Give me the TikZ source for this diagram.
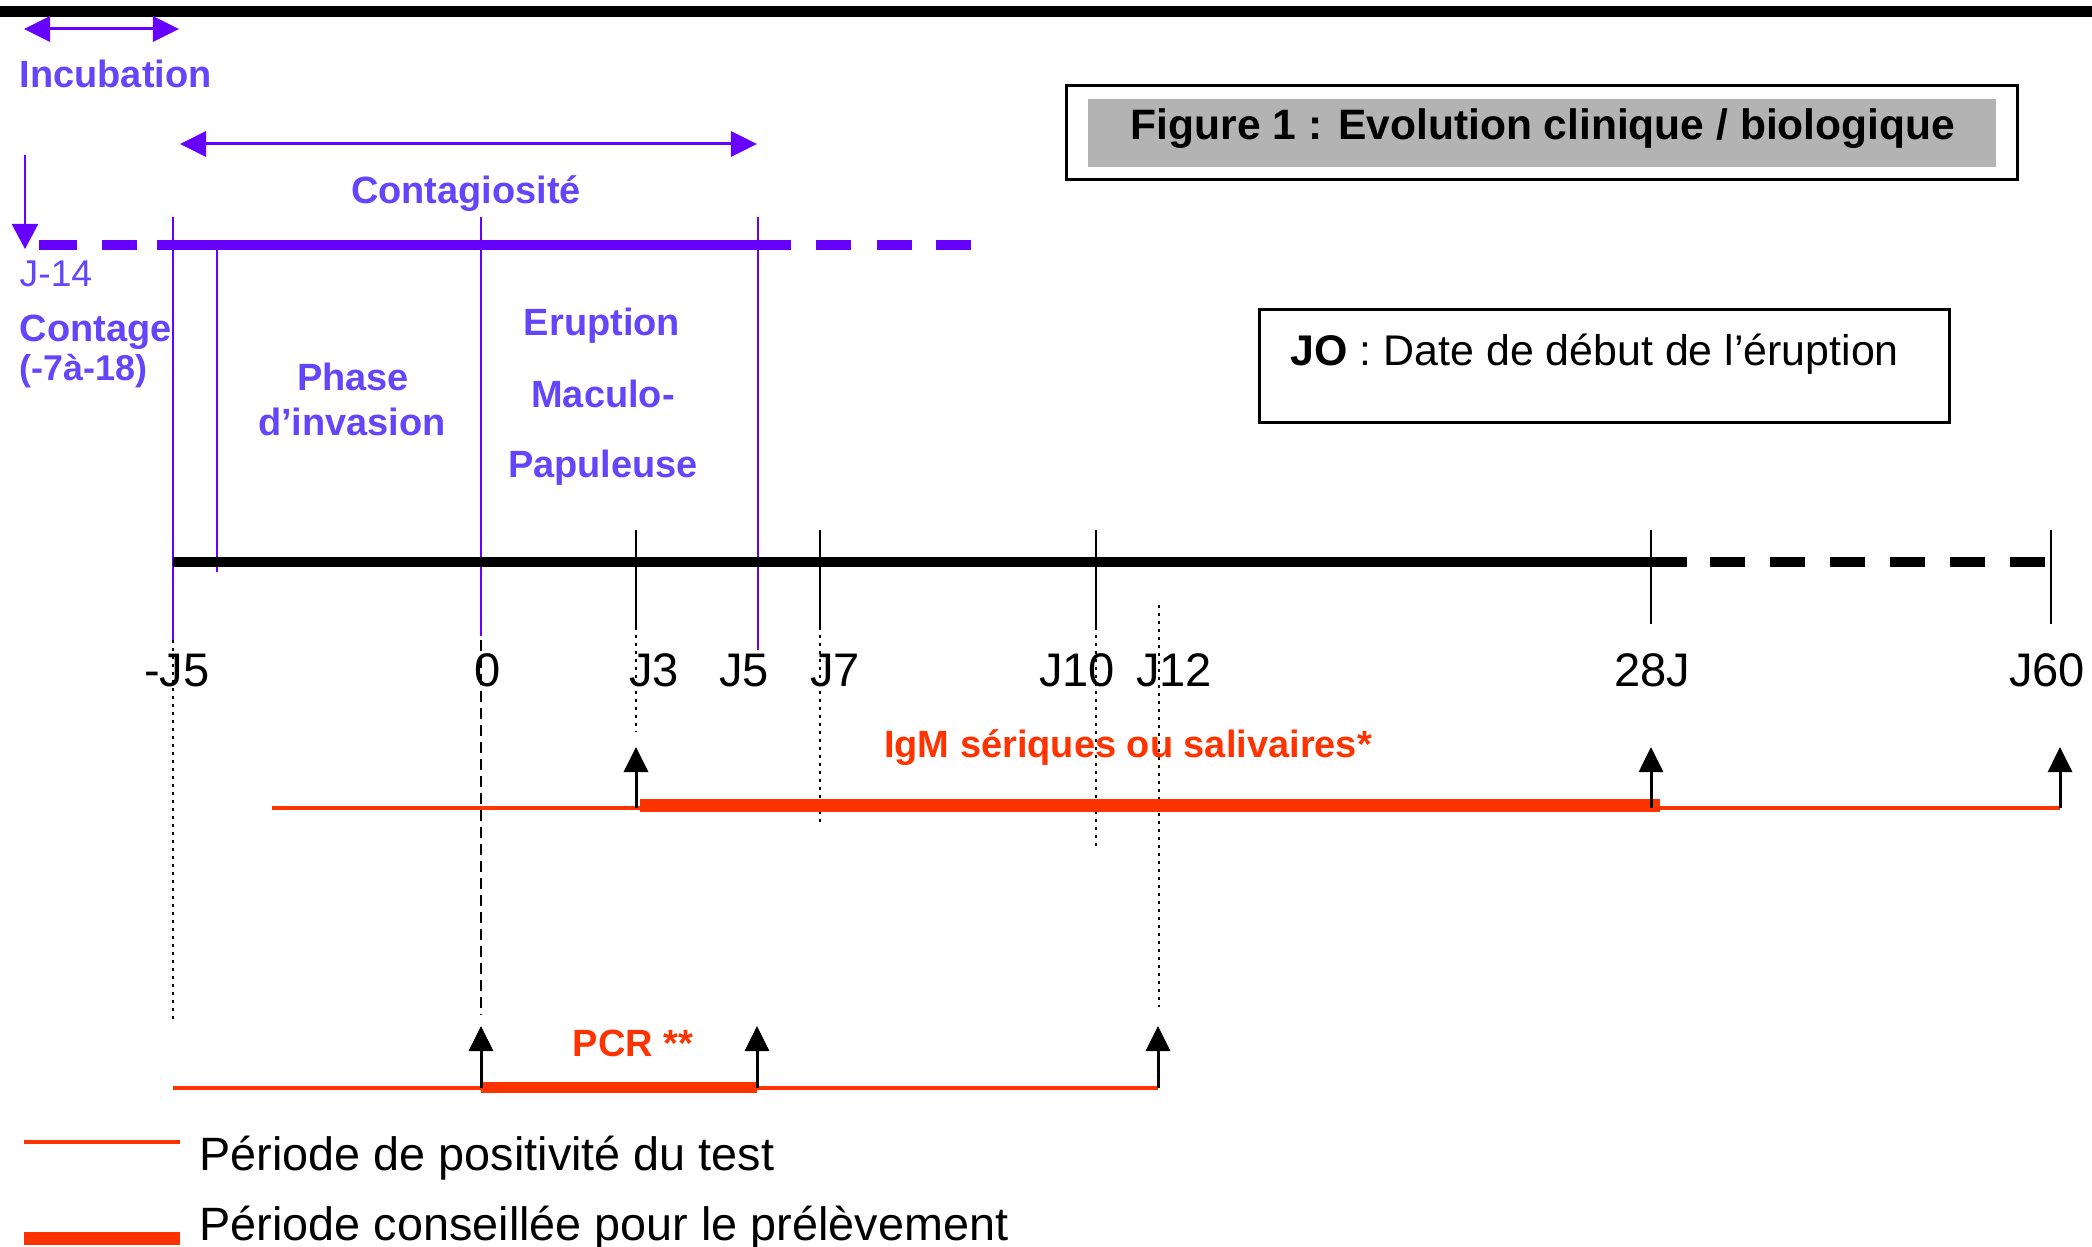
\documentclass[tikz,border=0pt]{standalone}
\usepackage{fontspec}
\setmainfont{Liberation Sans}
\usetikzlibrary{arrows.meta}
\definecolor{pline}{RGB}{102,0,255}
\definecolor{ptext}{RGB}{100,70,250}
\definecolor{rline}{RGB}{255,51,0}
\definecolor{gbox}{RGB}{179,179,179}
\begin{document}
\begin{tikzpicture}[x=0.01cm,y=-0.01cm,
  ax/.style={font=\fontsize{13.4}{15}\selectfont, inner sep=0pt, anchor=base},
  ptxt/.style={font=\fontsize{10.8}{13}\selectfont\bfseries, text=ptext, inner sep=0pt, anchor=base},
  pthin/.style={font=\fontsize{10.6}{13}\selectfont, text=ptext, inner sep=0pt, anchor=base west},
  rtxt/.style={font=\fontsize{10.8}{13}\selectfont\bfseries, text=rline, inner sep=0pt, anchor=base},
  legtxt/.style={font=\fontsize{13.3}{15}\selectfont, inner sep=0pt, anchor=base west},
  pvert/.style={draw=pline, line width=0.2mm},
  tick/.style={draw=black, line width=0.2mm},
  dotl/.style={draw=black, line width=0.15mm, dash pattern=on 0.25mm off 0.55mm},
  dashl/.style={draw=black, line width=0.18mm, dash pattern=on 1.1mm off 0.6mm},
  parrow/.style={draw=pline, line width=0.3mm, {Triangle[length=2.6mm,width=2.5mm]}-{Triangle[length=2.6mm,width=2.5mm]}},
  uparrow/.style={draw=black, line width=0.3mm, -{Triangle[length=2.5mm,width=2.4mm]}},
  rthin/.style={draw=rline, line width=0.32mm},
  rthick/.style={draw=rline, line width=1.3mm},
  pbar/.style={draw=pline, line width=1mm},
  kbar/.style={draw=black, line width=1mm}]
\useasboundingbox (0,0) rectangle (2092,1246);
% top rule
\draw[black, line width=1.1mm] (0,12) -- (2092,12);

% incubation / contagiosite arrows
\coordinate (incA) at (24,29); \coordinate (incB) at (179,29);
\draw[parrow] (incA) -- (incB);
\node[ptxt, anchor=base west] (incub) at (19,88) {Incubation};
\coordinate (conA) at (180,144); \coordinate (conB) at (757,144);
\draw[parrow] (conA) -- (conB);
\node[ptxt] (contag) at (466,204) {Contagiosité};
\coordinate (dnA) at (25,155); \coordinate (dnB) at (25,249);
\draw[draw=pline, line width=0.25mm, -{Triangle[length=2.5mm,width=2.6mm]}] (dnA) -- (dnB);

% purple vertical lines
\coordinate (v1t) at (173,217); \coordinate (v1b) at (173,640);
\coordinate (v2t) at (217,245); \coordinate (v2b) at (217,572);
\coordinate (v3t) at (481,217); \coordinate (v3b) at (481,636);
\coordinate (v4t) at (758,217); \coordinate (v4b) at (758,650);
\draw[pvert] (v1t) -- (v1b);
\draw[pvert] (v2t) -- (v2b);
\draw[pvert] (v3t) -- (v3b);
\draw[pvert] (v4t) -- (v4b);

% purple horizontal line
\draw[pbar] (39,245) -- (77,245);
\draw[pbar] (102,245) -- (137,245);
\draw[pbar] (157,245) -- (791,245);
\draw[pbar] (816,245) -- (851,245);
\draw[pbar] (877,245) -- (912,245);
\draw[pbar] (936,245) -- (971,245);

% left purple labels
\node[pthin] (j14) at (19,287) {J-14};
\node[ptxt, anchor=base west] (contage) at (19,342) {Contage};
\node[ptxt, anchor=base west, font=\fontsize{10.2}{12}\selectfont\bfseries] (range) at (19,380) {(-7à-18)};
\node[ptxt] (phase) at (353,390) {Phase};
\node[ptxt] (inv) at (352,435) {d’invasion};
\node[ptxt] (erup) at (602,335) {Eruption};
\node[ptxt] (mac) at (603,407) {Maculo-};
\node[ptxt] (pap) at (603,477) {Papuleuse};

% black axis
\draw[kbar] (173,562) -- (1687,562);
\draw[kbar, dash pattern=on 3.5mm off 2.5mm] (1710,562) -- (2048,562);

% ticks
\draw[tick] (636,530) -- (636,627);
\draw[dotl] (636,627) -- (636,732);
\draw[tick] (820,530) -- (820,627);
\draw[dotl] (820,627) -- (820,823);
\draw[tick] (1096,530) -- (1096,627);
\draw[dotl] (1096,627) -- (1096,851);
\draw[dotl] (1159,605) -- (1159,1007);
\draw[tick] (1651,530) -- (1651,624);
\draw[tick] (2051,530) -- (2051,624);
\draw[dotl] (173,640) -- (173,1023);
\draw[dashl] (481,640) -- (481,1015);

% axis labels
\node[ax] (lm5) at (177,686) {-J5};
\node[ax] (l0) at (488,686) {0};
\node[ax] (l3) at (654,686) {J3};
\node[ax] (l5) at (744,686) {J5};
\node[ax] (l7) at (835,686) {J7};
\node[ax] (l10) at (1077,686) {J10};
\node[ax] (l12) at (1174,686) {J12};
\node[ax] (l28) at (1652,686) {28J};
\node[ax] (l60) at (2047,686) {J60};

% title box
\node[draw=black, line width=0.3mm, minimum width=9.51cm, minimum height=0.94cm, inner sep=0pt] (tbox) at (1542,132.5) {};
\node[fill=gbox, minimum width=9.08cm, minimum height=0.68cm, inner sep=0pt] (tgray) at (1542,133) {};
\node[inner sep=0pt, anchor=base, font=\fontsize{12.1}{14}\selectfont\bfseries] (title) at (1543,140) {Figure 1 : Evolution clinique / biologique};

% JO box
\node[draw=black, line width=0.3mm, minimum width=6.9cm, minimum height=1.13cm, inner sep=0pt] (jbox) at (1604.5,366) {};
\node[inner sep=0pt, anchor=base west, font=\fontsize{12.2}{14}\selectfont] (jtxt) at (1290,365) {\textbf{JO} : Date de début de l’éruption};

% IgM
\coordinate (igS) at (272,808); \coordinate (igE) at (2060,808);
\draw[rthin] (igS) -- (igE);
\coordinate (igTS) at (640,805); \coordinate (igTE) at (1660,805);
\draw[rthick] (igTS) -- (igTE);
\node[rtxt] (igm) at (1128,757) {IgM sériques ou salivaires*};
\coordinate (a1b) at (636,808); \coordinate (a1t) at (636,747);
\coordinate (a2b) at (1651,808); \coordinate (a2t) at (1651,747);
\coordinate (a3b) at (2060,808); \coordinate (a3t) at (2060,747);
\draw[uparrow] (a1b) -- (a1t);
\draw[uparrow] (a2b) -- (a2t);
\draw[uparrow] (a3b) -- (a3t);

% PCR
\coordinate (pcS) at (173,1088); \coordinate (pcE) at (1158,1088);
\draw[rthin] (pcS) -- (pcE);
\coordinate (pcTS) at (481,1087); \coordinate (pcTE) at (757,1087);
\draw[rthick, line width=1.1mm] (pcTS) -- (pcTE);
\node[rtxt] (pcr) at (633,1056) {PCR **};
\coordinate (b1b) at (481,1088); \coordinate (b1t) at (481,1026);
\coordinate (b2b) at (757,1088); \coordinate (b2t) at (757,1026);
\coordinate (b3b) at (1158,1088); \coordinate (b3t) at (1158,1026);
\draw[uparrow] (b1b) -- (b1t);
\draw[uparrow] (b2b) -- (b2t);
\draw[uparrow] (b3b) -- (b3t);

% legend
\coordinate (lg1a) at (24,1142); \coordinate (lg1b) at (180,1142);
\draw[rthin] (lg1a) -- (lg1b);
\node[legtxt] (leg1) at (199,1170) {Période de positivité du test};
\coordinate (lg2a) at (24,1238); \coordinate (lg2b) at (180,1238);
\draw[rthick] (lg2a) -- (lg2b);
\node[legtxt] (leg2) at (199,1240) {Période conseillée pour le prélèvement};
\end{tikzpicture}
\end{document}
